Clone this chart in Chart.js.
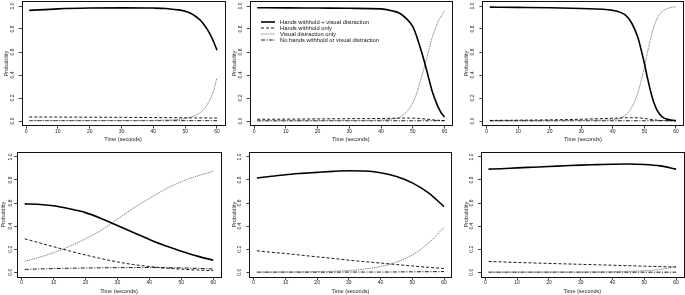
<!DOCTYPE html>
<html>
<head>
<meta charset="utf-8">
<script src="https://cdn.jsdelivr.net/npm/chart.js@4.4.1/dist/chart.umd.min.js"></script>
<style>
  html, body { margin: 0; padding: 0; background: #fff; }
  #wrap { position: relative; width: 685px; height: 295px; overflow: hidden; background: #fff; }
  .panel { position: absolute; }
</style>
</head>
<body>
<div id="wrap"></div>
<script>
// legend labels (shown in the top middle panel)
const seriesNames = [
  'Hands withhold + visual distraction',
  'Hands withhold only',
  'Visual distraction only',
  'No hands withhold or visual distraction'
];

// time points (seconds)
const topSeconds = [1, 10, 20, 30, 40, 44, 46, 48, 49, 50, 51, 52, 53, 54, 55, 56, 57, 58, 59, 60];
const bottomSeconds = [1, 5, 10, 15, 20, 25, 30, 35, 40, 45, 50, 55, 60];

const xTicks = [0, 10, 20, 30, 40, 50, 60];
const yTicks = [0, 0.2, 0.4, 0.6, 0.8, 1.0];

// panel 1 (top left)
const p1Both    = [0.962, 0.975, 0.982, 0.984, 0.982, 0.978, 0.972, 0.966, 0.961, 0.955, 0.945, 0.932, 0.915, 0.895, 0.870, 0.835, 0.795, 0.745, 0.685, 0.615];
const p1Hands   = [0.035, 0.034, 0.033, 0.032, 0.030, 0.029, 0.029, 0.028, 0.028, 0.028, 0.028, 0.027, 0.027, 0.027, 0.027, 0.027, 0.026, 0.026, 0.026, 0.026];
const p1Visual  = [0.005, 0.005, 0.005, 0.005, 0.006, 0.008, 0.010, 0.014, 0.017, 0.021, 0.027, 0.035, 0.046, 0.060, 0.080, 0.107, 0.145, 0.195, 0.270, 0.375];
const p1Neither = [0.003, 0.003, 0.003, 0.003, 0.003, 0.003, 0.003, 0.003, 0.003, 0.003, 0.003, 0.003, 0.003, 0.003, 0.003, 0.003, 0.003, 0.003, 0.003, 0.003];

// panel 2 (top middle)
const p2Both    = [0.985, 0.984, 0.982, 0.980, 0.975, 0.955, 0.935, 0.890, 0.860, 0.820, 0.755, 0.670, 0.580, 0.480, 0.375, 0.270, 0.190, 0.120, 0.070, 0.035];
const p2Hands   = [0.015, 0.016, 0.018, 0.020, 0.022, 0.024, 0.025, 0.026, 0.026, 0.025, 0.024, 0.022, 0.020, 0.017, 0.014, 0.011, 0.008, 0.006, 0.005, 0.004];
const p2Visual  = [0.002, 0.002, 0.003, 0.004, 0.008, 0.020, 0.035, 0.080, 0.110, 0.155, 0.220, 0.310, 0.405, 0.505, 0.610, 0.715, 0.795, 0.865, 0.915, 0.960];
const p2Neither = [0.002, 0.002, 0.002, 0.002, 0.002, 0.002, 0.002, 0.002, 0.002, 0.002, 0.002, 0.002, 0.002, 0.002, 0.002, 0.002, 0.002, 0.002, 0.002, 0.002];

// panel 3 (top right)
const p3Both    = [0.990, 0.988, 0.985, 0.978, 0.962, 0.920, 0.850, 0.720, 0.615, 0.500, 0.370, 0.255, 0.160, 0.095, 0.055, 0.030, 0.017, 0.010, 0.006, 0.004];
const p3Hands   = [0.005, 0.007, 0.010, 0.015, 0.024, 0.028, 0.029, 0.027, 0.025, 0.022, 0.018, 0.014, 0.010, 0.007, 0.005, 0.004, 0.003, 0.002, 0.002, 0.001];
const p3Visual  = [0.002, 0.002, 0.003, 0.005, 0.012, 0.050, 0.120, 0.250, 0.355, 0.470, 0.600, 0.720, 0.820, 0.890, 0.935, 0.960, 0.975, 0.985, 0.990, 0.993];
const p3Neither = [0.002, 0.002, 0.002, 0.002, 0.002, 0.002, 0.002, 0.002, 0.002, 0.002, 0.002, 0.002, 0.002, 0.002, 0.002, 0.002, 0.002, 0.002, 0.002, 0.002];

// panel 4 (bottom left)
const p4Both    = [0.593, 0.590, 0.576, 0.550, 0.517, 0.465, 0.405, 0.345, 0.285, 0.230, 0.183, 0.140, 0.105];
const p4Hands   = [0.290, 0.260, 0.222, 0.185, 0.150, 0.118, 0.090, 0.067, 0.050, 0.037, 0.027, 0.020, 0.014];
const p4Visual  = [0.096, 0.125, 0.170, 0.225, 0.290, 0.365, 0.460, 0.555, 0.640, 0.720, 0.785, 0.835, 0.875];
const p4Neither = [0.025, 0.028, 0.032, 0.035, 0.037, 0.039, 0.040, 0.041, 0.041, 0.040, 0.038, 0.034, 0.028];

// panel 5 (bottom middle)
const p5Both    = [0.817, 0.830, 0.846, 0.857, 0.866, 0.875, 0.880, 0.878, 0.862, 0.830, 0.775, 0.690, 0.570];
const p5Hands   = [0.186, 0.175, 0.163, 0.148, 0.134, 0.120, 0.105, 0.092, 0.080, 0.067, 0.055, 0.043, 0.033];
const p5Visual  = [0.002, 0.002, 0.003, 0.004, 0.006, 0.009, 0.015, 0.028, 0.050, 0.088, 0.150, 0.250, 0.390];
const p5Neither = [0.001, 0.001, 0.001, 0.001, 0.001, 0.001, 0.002, 0.002, 0.002, 0.003, 0.004, 0.005, 0.006];

// panel 6 (bottom right)
const p6Both    = [0.894, 0.898, 0.905, 0.911, 0.917, 0.923, 0.929, 0.933, 0.937, 0.938, 0.934, 0.922, 0.894];
const p6Hands   = [0.094, 0.090, 0.085, 0.081, 0.077, 0.073, 0.069, 0.065, 0.061, 0.057, 0.053, 0.049, 0.045];
const p6Visual  = [0.001, 0.001, 0.001, 0.001, 0.002, 0.002, 0.002, 0.003, 0.004, 0.008, 0.013, 0.025, 0.050];
const p6Neither = [0.001, 0.001, 0.001, 0.001, 0.001, 0.001, 0.001, 0.001, 0.001, 0.001, 0.001, 0.001, 0.001];

// line look for each series, same order as seriesNames
const lineStyles = [
  { color: '#000', width: 1.6, dash: [] },
  { color: '#000', width: 0.9, dash: [3, 2] },
  { color: '#7a7a7a', width: 0.9, dash: [1.5, 0.8] },
  { color: '#000', width: 0.9, dash: [4, 1.5, 1, 1.5] }
];

const panels = [
  { left: 0,   top: 0,   w: 228, h: 147, secs: topSeconds,    series: [p1Both, p1Hands, p1Visual, p1Neither], yW: 21.7, padR: 3.5, padT: 1.4, xH: 21.4, tickPad: 3,   titlePad: 3.2, xTitlePad: 4.4 },
  { left: 228, top: 0,   w: 228, h: 147, secs: topSeconds,    series: [p2Both, p2Hands, p2Visual, p2Neither], yW: 21.7, padR: 4,   padT: 1.4, xH: 21.4, tickPad: 3,   titlePad: 3,   xTitlePad: 4.4, legend: true },
  { left: 456, top: 0,   w: 229, h: 147, secs: topSeconds,    series: [p3Both, p3Hands, p3Visual, p3Neither], yW: 26.4, padR: 1.6, padT: 1.4, xH: 21.4, tickPad: 3,   titlePad: 7,   xTitlePad: 4.4 },
  { left: 0,   top: 147, w: 228, h: 148, secs: bottomSeconds, series: [p4Both, p4Hands, p4Visual, p4Neither], yW: 17.2, padR: 7.2, padT: 5.3, xH: 18.1, tickPad: 0,   titlePad: 0,   xTitlePad: 0.7 },
  { left: 228, top: 147, w: 228, h: 148, secs: bottomSeconds, series: [p5Both, p5Hands, p5Visual, p5Neither], yW: 21.4, padR: 4.5, padT: 5.3, xH: 18.1, tickPad: 3.5, titlePad: 3,   xTitlePad: 0.7 },
  { left: 456, top: 147, w: 229, h: 148, secs: bottomSeconds, series: [p6Both, p6Hands, p6Visual, p6Neither], yW: 25,   padR: 1.4, padT: 5.3, xH: 18.1, tickPad: 2.5, titlePad: 7.3, xTitlePad: 0.7 }
];

Chart.defaults.font.family = "'Liberation Sans', Arial, sans-serif";
Chart.defaults.color = '#222';

// R style box around the plot region
const frameBox = {
  id: 'frameBox',
  afterDraw(chart) {
    const a = chart.chartArea, ctx = chart.ctx;
    ctx.save();
    ctx.strokeStyle = '#111';
    ctx.lineWidth = 1;
    ctx.strokeRect(Math.round(a.left) + 0.5, Math.round(a.top) + 0.5,
      Math.round(a.right - a.left), Math.round(a.bottom - a.top));
    ctx.restore();
  }
};

// legend drawn inside the plot, like legend(..., bty = "n")
const insideLegend = {
  id: 'insideLegend',
  afterDraw(chart, args, opts) {
    if (!opts.show) return;
    const ctx = chart.ctx;
    ctx.save();
    ctx.font = "5.8px 'Liberation Sans', Arial, sans-serif";
    ctx.textBaseline = 'middle';
    ctx.fillStyle = '#111';
    chart.data.datasets.forEach((ds, i) => {
      const y = 22 + i * 6;
      ctx.beginPath();
      ctx.strokeStyle = ds.borderColor;
      ctx.lineWidth = ds.borderWidth;
      ctx.setLineDash(ds.borderDash);
      ctx.moveTo(33, y);
      ctx.lineTo(47, y);
      ctx.stroke();
      ctx.setLineDash([]);
      ctx.fillText(ds.label, 52, y);
    });
    ctx.restore();
  }
};

const wrap = document.getElementById('wrap');

panels.forEach(p => {
  const box = document.createElement('div');
  box.className = 'panel';
  box.style.left = p.left + 'px';
  box.style.top = p.top + 'px';
  box.style.width = p.w + 'px';
  box.style.height = p.h + 'px';
  const cv = document.createElement('canvas');
  cv.width = p.w;
  cv.height = p.h;
  box.appendChild(cv);
  wrap.appendChild(box);

  const datasets = p.series.map((vals, i) => ({
    label: seriesNames[i],
    data: p.secs.map((t, k) => ({ x: t, y: vals[k] })),
    borderColor: lineStyles[i].color,
    borderWidth: lineStyles[i].width,
    borderDash: lineStyles[i].dash,
    pointRadius: 0,
    fill: false,
    cubicInterpolationMode: 'monotone'
  }));

  new Chart(cv, {
    type: 'line',
    data: { datasets: datasets },
    plugins: [frameBox, insideLegend],
    options: {
      responsive: false,
      animation: false,
      devicePixelRatio: 1,
      layout: { padding: { left: 0, right: p.padR, top: p.padT, bottom: 0 } },
      plugins: {
        legend: { display: false },
        tooltip: { enabled: false },
        insideLegend: { show: !!p.legend }
      },
      scales: {
        x: {
          type: 'linear',
          min: -1.36,
          max: 62.36,
          afterBuildTicks: s => { s.ticks = xTicks.map(v => ({ value: v })); },
          afterFit: s => { s.height = p.xH; s.paddingLeft = 0; s.paddingRight = 0; },
          ticks: {
            font: { size: 5 },
            padding: 0,
            maxRotation: 0,
            callback: v => String(v)
          },
          grid: { drawOnChartArea: false, drawTicks: true, tickLength: 3, color: '#111', lineWidth: 0.8 },
          border: { display: false },
          title: { display: true, text: 'Time (seconds)', font: { size: 5.5 }, padding: { top: 0, bottom: p.xTitlePad } }
        },
        y: {
          type: 'linear',
          min: -0.04,
          max: 1.04,
          afterBuildTicks: s => { s.ticks = yTicks.map(v => ({ value: v })); },
          afterFit: s => { s.width = p.yW; s.paddingTop = 0; s.paddingBottom = 0; },
          ticks: {
            font: { size: 5 },
            padding: p.tickPad,
            minRotation: 90,
            maxRotation: 90,
            crossAlign: 'center',
            callback: v => v.toFixed(1)
          },
          grid: { drawOnChartArea: false, drawTicks: true, tickLength: 3, color: '#111', lineWidth: 0.8 },
          border: { display: false },
          title: { display: true, text: 'Probability', font: { size: 5.5 }, padding: { top: p.titlePad, bottom: 0 } }
        }
      }
    }
  });
});
</script>
</body>
</html>
